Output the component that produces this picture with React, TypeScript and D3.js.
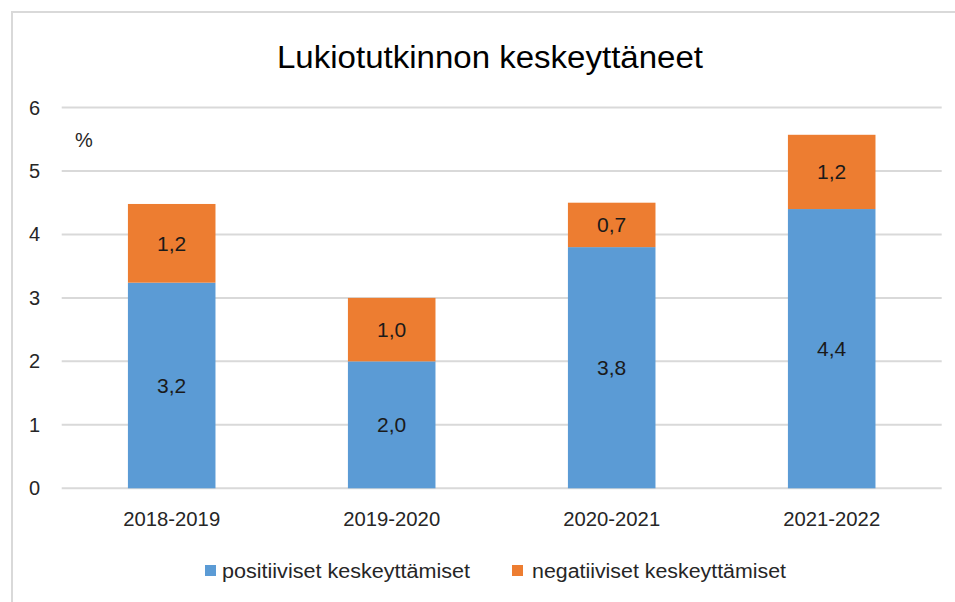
import React from "react";
import * as d3 from "d3";

const categories = ["2018-2019", "2019-2020", "2020-2021", "2021-2022"];
const positiveValues = [3.24, 2.0, 3.8, 4.4];
const negativeValues = [1.24, 1.0, 0.7, 1.17];
const yTicks = [0, 1, 2, 3, 4, 5, 6];
const seriesNames = ["positiiviset keskeyttämiset", "negatiiviset keskeyttämiset"];
const seriesColors = ["#5B9BD5", "#ED7D31"];
const title = "Lukiotutkinnon keskeyttäneet";
const unitLabel = "%";

const W = 955;
const H = 602;
const FONT = "'Liberation Sans', Arial, sans-serif";

export default function App() {
  const x = d3.scaleBand<string>().domain(categories).range([61.7, 941.7]).padding(0);
  const y = d3.scaleLinear().domain([0, 6]).range([488.3, 107.5]);
  const barW = x.bandwidth() * 0.398;

  const rows = categories.map((c, i) => ({ cat: c, pos: positiveValues[i], neg: negativeValues[i] }));
  const stack = d3.stack<any>().keys(["pos", "neg"]);
  const layers = stack(rows);
  const fmt = (v: number) => d3.format(".1f")(v).replace(".", ",");

  return (
    <svg width={W} height={H} style={{ position: "fixed", left: 0, top: 0, background: "#fff" }} fontFamily={FONT}>
      <rect x={0} y={0} width={W} height={H} fill="#fff" />
      <rect x={12} y={12} width={W + 20} height={H + 20} fill="none" stroke="#d9d9d9" strokeWidth={2} />
      <text x={490} y={68} textAnchor="middle" fontSize={31} fill="#000" textLength={426} lengthAdjust="spacingAndGlyphs">{title}</text>
      {yTicks.map((t) => (
        <g key={t}>
          <line x1={61.7} x2={941.7} y1={y(t)} y2={y(t)} stroke="#d9d9d9" strokeWidth={2} />
          <text x={40} y={y(t)} dy="0.35em" textAnchor="end" fontSize={20} fill="#262626">{t}</text>
        </g>
      ))}
      <text x={84} y={140} dy="0.35em" textAnchor="middle" fontSize={20} fill="#262626">{unitLabel}</text>
      {layers.map((layer, li) => (
        <g key={li}>
          {layer.map((d, i) => {
            const cx = (x(categories[i]) as number) + x.bandwidth() / 2;
            const y0 = y(d[0]);
            const y1 = y(d[1]);
            return (
              <g key={i}>
                <rect x={cx - barW / 2} y={y1} width={barW} height={y0 - y1} fill={seriesColors[li]} />
                <text x={cx} y={(y0 + y1) / 2} dy="0.35em" textAnchor="middle" fontSize={21} fill="#1a1a1a">
                  {fmt(d[1] - d[0])}
                </text>
              </g>
            );
          })}
        </g>
      ))}
      {categories.map((c) => (
        <text key={c} x={(x(c) as number) + x.bandwidth() / 2} y={519} dy="0.35em" textAnchor="middle" fontSize={20} fill="#262626" textLength={97} lengthAdjust="spacingAndGlyphs">
          {c}
        </text>
      ))}
      {seriesNames.map((n, i) => {
        const sx = i === 0 ? 205 : 512;
        const tx = i === 0 ? 222 : 532;
        const tl = i === 0 ? 248 : 254;
        return (
          <g key={n}>
            <rect x={sx} y={565} width={11} height={11} fill={seriesColors[i]} />
            <text x={tx} y={571} dy="0.35em" fontSize={20} fill="#262626" textLength={tl} lengthAdjust="spacingAndGlyphs">{n}</text>
          </g>
        );
      })}
    </svg>
  );
}
